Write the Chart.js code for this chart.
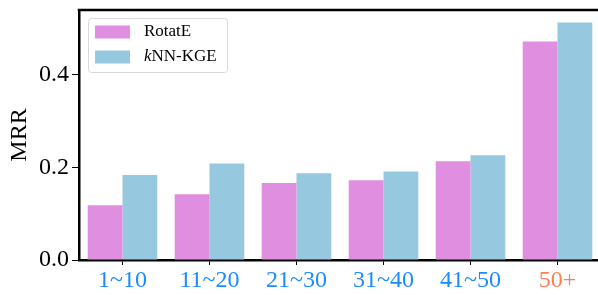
<!DOCTYPE html>
<html>
<head>
<meta charset="utf-8">
<script src="https://cdn.jsdelivr.net/npm/chart.js@4.4.0/dist/chart.umd.min.js"></script>
<style>
  html, body { margin: 0; padding: 0; background: #fff; overflow: hidden; }
  #wrap { width: 601px; height: 295px; }
</style>
</head>
<body>
<div id="wrap"><canvas id="chart" width="601" height="295"></canvas></div>
<script>
const categories = ['1~10', '11~20', '21~30', '31~40', '41~50', '50+'];
const rotateValues = [0.118, 0.142, 0.166, 0.172, 0.213, 0.471];
const knnValues = [0.183, 0.208, 0.187, 0.191, 0.226, 0.512];
const yTicks = [0.0, 0.2, 0.4];
const labelColors = ['#1a8cff', '#1a8cff', '#1a8cff', '#1a8cff', '#1a8cff', '#ff7f50'];

const serif = "'Liberation Serif', 'Times New Roman', serif";

// top spine (matplotlib style box)
const frame = {
    id: 'frame',
    afterDraw(chart) {
        const { ctx, chartArea } = chart;
        ctx.save();
        ctx.strokeStyle = '#000';
        ctx.lineWidth = 2.5;
        ctx.beginPath();
        ctx.moveTo(chartArea.left - 1.25, chartArea.top);
        ctx.lineTo(chartArea.right, chartArea.top);
        ctx.stroke();
        ctx.restore();
    }
};

new Chart(document.getElementById('chart'), {
    type: 'bar',
    data: {
        labels: categories,
        datasets: [
            { label: 'RotatE', data: rotateValues, backgroundColor: '#e08fe0' },
            { label: 'kNN-KGE', data: knnValues, backgroundColor: '#96c8df' }
        ]
    },
    options: {
        responsive: false,
        animation: false,
        layout: { padding: { top: 10, right: 0, bottom: 0, left: 0 } },
        datasets: { bar: { categoryPercentage: 0.8, barPercentage: 1.0 } },
        plugins: {
            legend: { display: false },
            tooltip: { enabled: false }
        },
        scales: {
            x: {
                grid: { offset: false, drawOnChartArea: false, drawTicks: true, tickLength: 5, color: '#000', lineWidth: 1 },
                border: { color: '#000', width: 2.5 },
                ticks: {
                    color: labelColors,
                    font: { family: serif, size: 24 },
                    padding: 1,
                    maxRotation: 0
                },
                afterFit(scale) {
                    scale.height = 35;
                    scale.paddingLeft = 0;
                    scale.paddingRight = 0;
                }
            },
            y: {
                min: 0,
                max: 0.539,
                grid: { drawOnChartArea: false, drawTicks: true, tickLength: 7, color: '#000', lineWidth: 1 },
                border: { color: '#000', width: 2.5 },
                afterBuildTicks(scale) { scale.ticks = yTicks.map(v => ({ value: v })); },
                ticks: {
                    color: '#000',
                    font: { family: serif, size: 24 },
                    padding: 3,
                    callback: v => v.toFixed(1)
                },
                title: {
                    display: true,
                    text: 'MRR',
                    color: '#000',
                    font: { family: serif, size: 24 },
                    padding: { top: 5, bottom: 0 }
                },
                afterFit(scale) {
                    scale.width = 79;
                    scale.paddingTop = 0;
                    scale.paddingBottom = 0;
                }
            }
        }
    },
    plugins: [frame, {
        id: 'legendBox',
        afterDraw(chart) {
            const ctx = chart.ctx;
            const x = 88, y = 18, w = 139, h = 54;
            ctx.save();
            ctx.fillStyle = 'rgba(255,255,255,0.8)';
            ctx.strokeStyle = '#d9d9d9';
            ctx.lineWidth = 1;
            ctx.beginPath();
            ctx.roundRect(x + 0.5, y + 0.5, w, h, 3);
            ctx.fill();
            ctx.stroke();
            const items = chart.data.datasets;
            items.forEach((ds, i) => {
                const cy = y + 14 + i * 25;
                ctx.fillStyle = ds.backgroundColor;
                ctx.fillRect(x + 7, cy - 6.5, 35, 13);
                ctx.fillStyle = '#000';
                ctx.textBaseline = 'middle';
                let tx = x + 56;
                if (ds.label.startsWith('k')) {
                    ctx.font = 'italic 17px ' + serif;
                    ctx.fillText('k', tx, cy);
                    tx += ctx.measureText('k').width;
                    ctx.font = '17px ' + serif;
                    ctx.fillText(ds.label.slice(1), tx, cy);
                } else {
                    ctx.font = '17px ' + serif;
                    ctx.fillText(ds.label, tx, cy);
                }
            });
            ctx.restore();
        }
    }]
});
</script>
</body>
</html>
